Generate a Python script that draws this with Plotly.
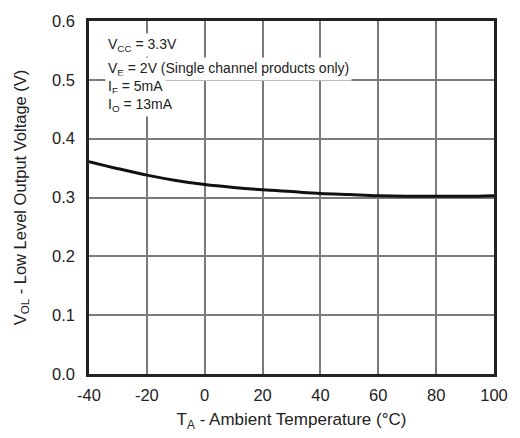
import plotly.graph_objects as go

temp_c = [-40, -30, -20, -10, 0, 10, 20, 30, 40, 50, 60, 70, 80, 90, 100]
vol_v = [0.361, 0.349, 0.338, 0.329, 0.322, 0.317, 0.313, 0.310, 0.307,
         0.305, 0.303, 0.302, 0.302, 0.302, 0.303]

x_ticks = [-40, -20, 0, 20, 40, 60, 80, 100]
x_tick_labels = ["-40", "-20", "0", "20", "40", "60", "80", "100"]
y_ticks = [0.0, 0.1, 0.2, 0.3, 0.4, 0.5, 0.6]
y_tick_labels = ["0.0", "0.1", "0.2", "0.3", "0.4", "0.5", "0.6"]

cond_lines = [
    "V<sub>CC</sub> = 3.3V",
    "V<sub>E</sub> = 2V (Single channel products only)",
    "I<sub>F</sub> = 5mA",
    "I<sub>O</sub> = 13mA",
]
cond_y = [0.559, 0.519, 0.488, 0.458]

FONT = "Liberation Sans, Arial, sans-serif"

fig = go.Figure()
fig.add_trace(go.Scatter(
    x=temp_c, y=vol_v, mode="lines",
    line=dict(color="#111111", width=3, shape="spline"),
    showlegend=False, hoverinfo="skip",
))

for txt, yy in zip(cond_lines, cond_y):
    fig.add_annotation(
        x=-34.6, y=yy, xref="x", yref="y", text=txt, showarrow=False,
        xanchor="left", yanchor="middle", align="left",
        font=dict(family=FONT, size=14, color="#222222"),
        bgcolor="white", borderpad=2,
    )

fig.update_layout(
    width=520, height=438,
    margin=dict(l=89, r=20, t=19, b=57),
    paper_bgcolor="white", plot_bgcolor="white",
    font=dict(family=FONT, size=16, color="#222222"),
    xaxis=dict(
        range=[-40, 100], tickmode="array", tickvals=x_ticks, ticktext=x_tick_labels,
        showgrid=True, gridcolor="#7a7a7a", gridwidth=1.5,
        showline=True, linecolor="#222222", linewidth=2.5, mirror=True,
        ticks="outside", ticklen=4, tickcolor="rgba(0,0,0,0)",
        zeroline=False,
        title=dict(text="T<sub>A</sub> - Ambient Temperature (°C)",
                   font=dict(family=FONT, size=17), standoff=11),
        tickfont=dict(family=FONT, size=16.5),
    ),
    yaxis=dict(
        range=[0, 0.6], tickmode="array", tickvals=y_ticks, ticktext=y_tick_labels,
        showgrid=True, gridcolor="#7a7a7a", gridwidth=1.5,
        showline=True, linecolor="#222222", linewidth=2.5, mirror=True,
        ticks="outside", ticklen=8, tickcolor="rgba(0,0,0,0)",
        zeroline=False,
        title=dict(text="V<sub>OL</sub> - Low Level Output Voltage (V)",
                   font=dict(family=FONT, size=16.5), standoff=22),
        tickfont=dict(family=FONT, size=16.5),
    ),
)

fig.write_html(
    "out.html",
    config={"displayModeBar": False},
    post_script=("document.documentElement.style.margin='0';"
                 "document.body.style.margin='0';document.body.style.padding='0';"
                 "document.body.style.overflow='hidden';"
                 "document.documentElement.style.overflow='hidden';"),
)
